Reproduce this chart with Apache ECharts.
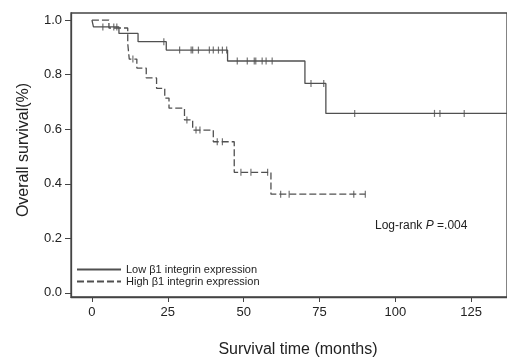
<!DOCTYPE html>
<html>
<head>
<meta charset="utf-8">
<script src="https://cdn.jsdelivr.net/npm/echarts@6/dist/echarts.min.js"></script>
<style>
  html, body { margin: 0; padding: 0; background: #fff; }
  #chart { width: 507px; height: 360px; }
</style>
</head>
<body>
<div id="chart"></div>
<script>
// Kaplan-Meier curves: event times (months) and survival after each event
const lowTimes = [0, 0.5, 8.9, 15.2, 24.5, 44.7, 70.2, 77.1];
const lowSurv = [1, 0.975, 0.951, 0.921, 0.89, 0.85, 0.768, 0.658];
const lowLastFollowUp = 140;
const lowCensored = [3.6, 7.2, 8.2, 23.7, 28.9, 32.7, 33.2, 35.1, 38.7, 40.0, 41.7, 43.0, 44.4,
  47.9, 51.2, 53.5, 54.0, 56.1, 57.4, 59.4, 72.2, 76.4, 86.6, 112.9, 114.7, 122.7];

const highTimes = [0, 5.6, 11.8, 12.3, 14.8, 17.9, 21.3, 24.0, 25.4, 30.5, 33.2, 40.0, 46.9, 59.0];
const highSurv = [1, 0.971, 0.914, 0.857, 0.824, 0.788, 0.75, 0.714, 0.677, 0.634, 0.597, 0.554, 0.442, 0.362];
const highLastFollowUp = 90.1;
const highCensored = [13.5, 31.3, 34.3, 35.6, 41.3, 43.0, 49.1, 52.4, 57.9, 62.2, 65.0, 86.3, 90.1];

const xTicks = [0, 25, 50, 75, 100, 125];
const yTicks = [0, 0.2, 0.4, 0.6, 0.8, 1.0];

const lowName = "Low \u03b21 integrin expression";
const highName = "High \u03b21 integrin expression";

const lineColor = "#505050";
const axisColor = "#444";
const font = "Liberation Sans, Arial, sans-serif";

const curve = (times, surv, last) =>
  times.map((t, i) => [t, surv[i]]).concat([[last, surv[surv.length - 1]]]);

const survAt = (times, surv, t) => {
  let s = surv[0];
  times.forEach((ti, i) => { if (ti <= t) s = surv[i]; });
  return s;
};

const censorMarks = (censored, times, surv) =>
  censored.map((t) => [t, survAt(times, surv, t)]);

const chart = echarts.init(document.getElementById("chart"));
chart.setOption({
  animation: false,
  textStyle: { fontFamily: font },
  grid: {
    left: 71, top: 13, right: -2, bottom: 63,
    show: true, borderColor: axisColor, borderWidth: 1.3
  },
  legend: {
    data: [lowName, highName],
    orient: "vertical",
    left: 76, top: 264,
    padding: 0,
    itemWidth: 44, itemHeight: 8, itemGap: 1,
    itemStyle: { opacity: 0 },
    textStyle: { fontSize: 11, color: "#222", fontFamily: font }
  },
  xAxis: {
    type: "value",
    min: -6.9, max: 136.8,
    splitLine: { show: false },
    axisLine: { show: true, onZero: false, lineStyle: { color: axisColor, width: 1.3 } },
    axisTick: { show: true, length: 5, customValues: xTicks, lineStyle: { color: axisColor } },
    axisLabel: { customValues: xTicks, fontSize: 13, color: "#222", margin: 9 }
  },
  yAxis: {
    type: "value",
    min: -0.015, max: 1.026,
    splitLine: { show: false },
    axisLine: { show: true, onZero: false, lineStyle: { color: axisColor, width: 1.3 } },
    axisTick: { show: true, length: 6, customValues: yTicks, lineStyle: { color: axisColor } },
    axisLabel: {
      customValues: yTicks, fontSize: 13, color: "#222", margin: 9,
      formatter: (v) => v.toFixed(1)
    }
  },
  series: [
    {
      name: lowName,
      type: "line",
      step: "end",
      symbol: "none",
      data: curve(lowTimes, lowSurv, lowLastFollowUp),
      lineStyle: { color: lineColor, width: 1.3, type: "solid" },
      itemStyle: { color: lineColor }
    },
    {
      name: highName,
      type: "line",
      step: "end",
      symbol: "none",
      data: curve(highTimes, highSurv, highLastFollowUp),
      lineStyle: { color: lineColor, width: 1.3, type: [7, 3] },
      itemStyle: { color: lineColor }
    },
    {
      name: "low censored",
      type: "scatter",
      symbol: "rect",
      symbolSize: [1.2, 7],
      silent: true,
      data: censorMarks(lowCensored, lowTimes, lowSurv),
      itemStyle: { color: lineColor }
    },
    {
      name: "high censored",
      type: "scatter",
      symbol: "rect",
      symbolSize: [1.2, 7],
      silent: true,
      data: censorMarks(highCensored, highTimes, highSurv),
      itemStyle: { color: lineColor }
    }
  ],
  graphic: [
    {
      type: "text",
      x: 375, y: 226,
      style: {
        text: "Log-rank {i|P} =.004",
        font: "12px " + font,
        fill: "#222",
        textVerticalAlign: "middle",
        rich: { i: { fontStyle: "italic", fontSize: 12, fontFamily: font, fill: "#222" } }
      }
    },
    {
      type: "text",
      x: 298, y: 350,
      style: {
        text: "Survival time (months)",
        font: "16px " + font,
        fill: "#222",
        textAlign: "center",
        textVerticalAlign: "middle"
      }
    },
    {
      type: "text",
      x: 24, y: 150,
      rotation: Math.PI / 2,
      style: {
        text: "Overall survival(%)",
        font: "16px " + font,
        fill: "#222",
        textAlign: "center",
        textVerticalAlign: "middle"
      }
    }
  ]
});
</script>
</body>
</html>
